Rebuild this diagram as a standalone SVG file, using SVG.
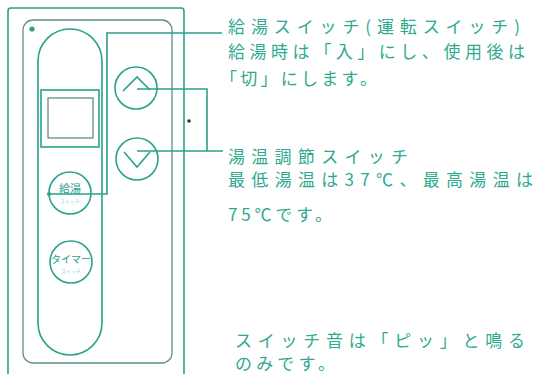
<svg xmlns="http://www.w3.org/2000/svg" width="538" height="374" viewBox="0 0 538 374">
<style>
.ln{fill:none;stroke:#2aa18d;stroke-width:1.6}
.gr{fill:none;stroke:#5f8f88;stroke-width:1.3}
.tx{font-family:"Noto Sans CJK JP",sans-serif;font-size:17px;fill:#30a991}
.bt{font-family:"Noto Sans CJK JP",sans-serif;fill:#2aa18d}
</style>
<rect width="538" height="374" fill="#ffffff"/>
<g id="panel">
<rect x="8" y="8" width="176" height="380" rx="3" class="ln"/>
<rect x="23" y="20" width="149" height="343" rx="10" class="gr"/>
<circle cx="32" cy="29" r="2.6" fill="#2aa18d"/>
<path d="M38,61 A32,32 0 0 1 102,61 L102,323 A32,32 0 0 1 38,323 Z" class="ln"/>
<circle cx="189" cy="121" r="1.8" fill="#333"/>
</g>
<g id="display">
<rect x="41" y="90" width="58" height="57" class="ln"/>
<rect x="48" y="98" width="45" height="40" class="gr"/>
</g>
<g id="btn-kyuto">
<circle cx="70" cy="193" r="21" class="ln" stroke-width="2"/>
<text x="70" y="193" text-anchor="middle" class="bt" font-size="11">給湯</text>
<text x="70" y="203" text-anchor="middle" class="bt" font-size="5" opacity="0.45">スイッチ</text>
</g>
<g id="btn-timer">
<circle cx="71" cy="262" r="21" class="ln" stroke-width="2"/>
<text x="71" y="263" text-anchor="middle" class="bt" font-size="10">タイマー</text>
<text x="71" y="273" text-anchor="middle" class="bt" font-size="5" opacity="0.45">スイッチ</text>
</g>
<g id="btn-up">
<circle cx="136" cy="88" r="21" class="ln" stroke-width="1.3"/>
<polyline points="123,91 137,77 150,90" class="ln" stroke-width="1.4"/>
</g>
<g id="btn-down">
<circle cx="137" cy="159" r="21" class="ln" stroke-width="1.3"/>
<polyline points="124,152 137,167 150,152" class="ln" stroke-width="1.4"/>
</g>
<g id="connectors">
<polyline points="49,194 107,194 107,33 222,33" class="ln"/>
<circle cx="49" cy="194" r="2" fill="#2aa18d"/>
<polyline points="137,89 207,89 207,151" class="ln"/>
<polyline points="137,151 223,151" class="ln"/>
</g>
<g id="label-kyuto">
<text x="228" y="33" class="tx" textLength="292" lengthAdjust="spacing">給湯スイッチ(運転スイッチ)</text>
<text x="228" y="58" class="tx" textLength="297" lengthAdjust="spacing">給湯時は「入」にし、使用後は</text>
<text x="220" y="85" class="tx" textLength="157" lengthAdjust="spacing">「切」にします。</text>
</g>
<g id="label-temp">
<text x="228" y="163" class="tx" textLength="180" lengthAdjust="spacing">湯温調節スイッチ</text>
<text x="228" y="186" class="tx" textLength="305" lengthAdjust="spacing">最低湯温は37℃、最高湯温は</text>
<text x="228" y="221" class="tx" textLength="104" lengthAdjust="spacing">75℃です。</text>
</g>
<g id="label-sound">
<text x="235" y="347" class="tx" textLength="290" lengthAdjust="spacing">スイッチ音は「ピッ」と鳴る</text>
<text x="235" y="370" class="tx" textLength="100" lengthAdjust="spacing">のみです。</text>
</g>
</svg>
